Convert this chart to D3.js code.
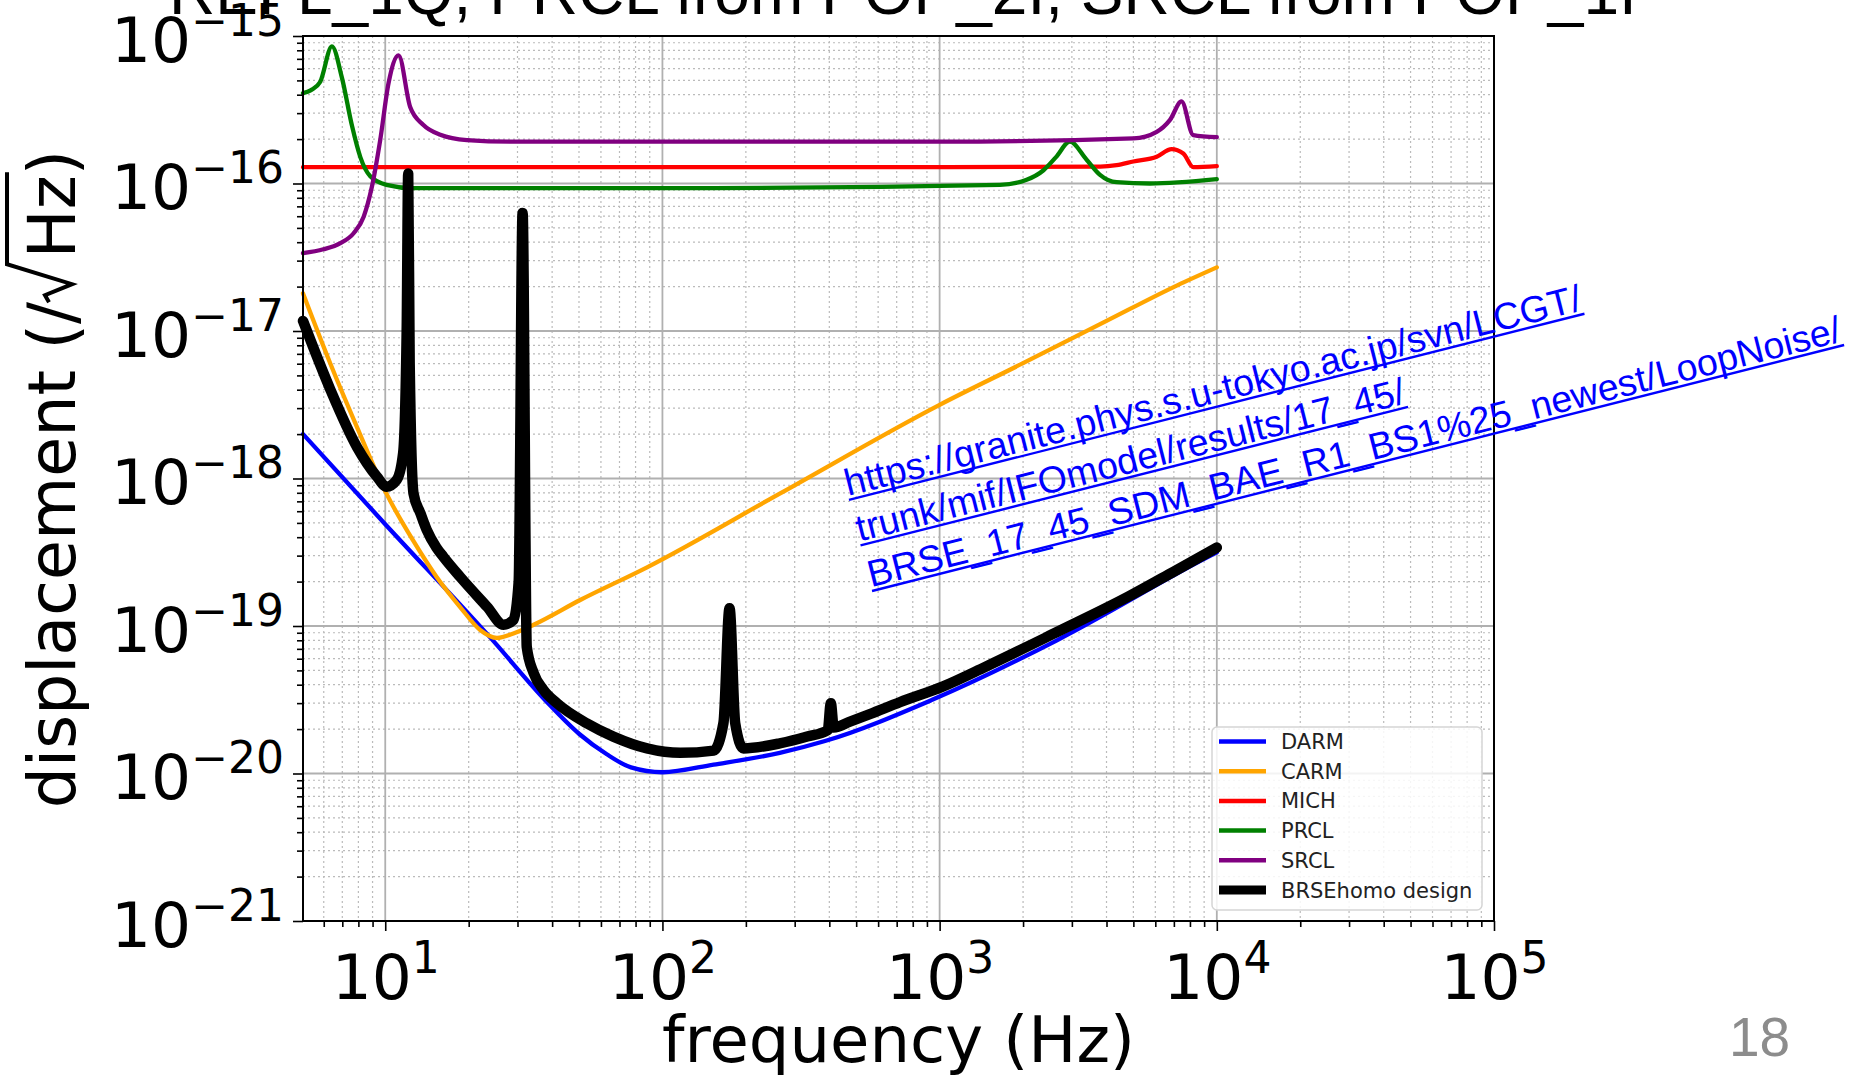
<!DOCTYPE html>
<html lang="en">
<head>
<meta charset="UTF-8">
<title>Loop noise</title>
<script src="https://d3js.org/d3.v7.min.js"></script>
<style>
  body { margin: 0; background: #fff; }
  svg { display: block; }
</style>
</head>
<body>
<div id="chart"></div>
<script>

// frequency (Hz) / displacement (m/rtHz)
const darmFreq = [5.05, 10, 24, 38, 50, 63, 77, 100, 153, 265, 386, 940, 2650, 8690, 10000];
const darmAsd  = [2.0e-18, 4.9e-19, 8.3e-20, 3.1e-20, 1.86e-20, 1.35e-20, 1.10e-20, 1.02e-20, 1.15e-20, 1.38e-20, 1.66e-20, 3.16e-20, 8.0e-20, 2.75e-19, 3.16e-19];

const carmFreq = [5.05, 6.34, 7.9, 10.1, 12.6, 15.3, 18.6, 22, 25.3, 29, 34.3, 50.5, 88, 265, 1000, 2000, 4000, 7200, 10000];
const carmAsd  = [1.8e-17, 6.0e-18, 2.24e-18, 7.9e-19, 3.8e-19, 2.16e-19, 1.35e-19, 9.4e-20, 8.3e-20, 8.9e-20, 1.02e-19, 1.5e-19, 2.5e-19, 7.9e-19, 3.16e-18, 6.05e-18, 1.17e-17, 2.04e-17, 2.7e-17];

const michFreq = [5.05, 100, 1000, 3800, 4350, 5000, 6070, 6870, 7570, 8220, 10000];
const michAsd  = [1.29e-16, 1.29e-16, 1.29e-16, 1.30e-16, 1.33e-16, 1.41e-16, 1.52e-16, 1.71e-16, 1.60e-16, 1.29e-16, 1.31e-16];

const prclFreq = [5.05, 5.4, 5.83, 6.42, 6.98, 7.59, 8.13, 8.83, 10.1, 12.6, 100, 1650, 2060, 2370, 2630, 2950, 3390, 3780, 4350, 5740, 10000];
const prclAsd  = [4.1e-16, 4.3e-16, 4.9e-16, 8.5e-16, 5.2e-16, 2.45e-16, 1.51e-16, 1.12e-16, 9.8e-17, 9.3e-17, 9.3e-17, 9.8e-17, 1.06e-16, 1.23e-16, 1.51e-16, 1.92e-16, 1.45e-16, 1.15e-16, 1.02e-16, 1.0e-16, 1.07e-16];

const srclFreq = [5.05, 5.98, 6.89, 7.69, 8.36, 8.95, 9.59, 10.28, 11.17, 12.3, 13.7, 15.8, 19.7, 29, 1000, 5000, 6070, 6780, 7460, 8220, 10000];
const srclAsd  = [3.37e-17, 3.58e-17, 3.94e-17, 4.6e-17, 5.96e-17, 9.5e-17, 1.97e-16, 4.8e-16, 7.4e-16, 3.3e-16, 2.5e-16, 2.14e-16, 1.97e-16, 1.92e-16, 1.92e-16, 2.02e-16, 2.24e-16, 2.7e-16, 3.6e-16, 2.13e-16, 2.06e-16];

const brseFreq = [5.05, 6.34, 7.9, 9.33, 10.1, 11.0, 11.6, 11.95, 12.1, 12.25, 12.65, 13.4, 14.1, 15.3, 16.2, 18.6, 23.3, 26.7, 29.0, 30.3, 31.3, 32.4, 34.3, 37.2, 41.6, 53.3, 66.5, 88, 116, 153, 166, 174.6, 183, 196, 265, 333, 395, 405, 415, 475, 560, 720, 1030, 1466, 2650, 4790, 7000, 10000];
const brseAsd  = [1.17e-17, 4.0e-18, 1.64e-18, 1.03e-18, 8.8e-19, 9.8e-19, 1.48e-18, 1.0e-17, 1.17e-16, 6.0e-18, 7.9e-19, 5.8e-19, 4.5e-19, 3.4e-19, 2.95e-19, 2.16e-19, 1.35e-19, 1.02e-19, 1.10e-19, 2.0e-19, 6.3e-17, 7.2e-20, 4.8e-20, 3.7e-20, 3.0e-20, 2.19e-20, 1.78e-20, 1.48e-20, 1.38e-20, 1.43e-20, 2.2e-20, 1.32e-19, 2.2e-20, 1.48e-20, 1.60e-20, 1.78e-20, 1.97e-20, 3.0e-20, 2.05e-20, 2.25e-20, 2.53e-20, 3.05e-20, 3.9e-20, 5.3e-20, 9.1e-20, 1.58e-19, 2.34e-19, 3.4e-19];

const seriesNames  = ["DARM", "CARM", "MICH", "PRCL", "SRCL", "BRSEhomo design"];
const seriesColors = ["#0000ff", "#ffa500", "#ff0000", "#008000", "#800080", "#000000"];

const xDecades = [1e1, 1e2, 1e3, 1e4, 1e5];
const xExponents = ["1", "2", "3", "4", "5"];
const yDecades = [1e-21, 1e-20, 1e-19, 1e-18, 1e-17, 1e-16, 1e-15];
const yExponents = ["\u221221", "\u221220", "\u221219", "\u221218", "\u221217", "\u221216", "\u221215"];

const titleText = "REFL_1Q, PRCL from POP_2I, SRCL from POP_1I";
const linkLines = [
  "https://granite.phys.s.u-tokyo.ac.jp/svn/LCGT/",
  "trunk/mif/IFOmodel/results/17_45/",
  "BRSE_17_45_SDM_BAE_R1_BS1%25_newest/LoopNoise/"
];
const pageNumber = "18";

// ---- layout
const W = 1854, H = 1080;
const plot = { left: 303, right: 1494, top: 36, bottom: 921 };

const svg = d3.select("#chart").append("svg")
  .attr("width", W)
  .attr("height", H)
  .style("background", "#fff");

const x = d3.scaleLog().domain([5.05, 1e5]).range([plot.left, plot.right]);
const y = d3.scaleLog().domain([1e-21, 1e-15]).range([plot.bottom, plot.top]);

// minor tick values 2..9 per decade
const xMinor = [];
for (let e = 0; e <= 4; e++) for (let m = 2; m <= 9; m++) {
  const v = m * Math.pow(10, e);
  if (v >= 5.05 && v < 1e5) xMinor.push(v);
}
const yMinor = [];
for (let e = -21; e <= -16; e++) for (let m = 2; m <= 9; m++) yMinor.push(m * Math.pow(10, e));

// grid
const grid = svg.append("g");
grid.selectAll(".xmin").data(xMinor).enter().append("line")
  .attr("x1", d => x(d)).attr("x2", d => x(d))
  .attr("y1", plot.top).attr("y2", plot.bottom)
  .attr("stroke", "#bbbbbb").attr("stroke-width", 1.2).attr("stroke-dasharray", "2,3");
grid.selectAll(".ymin").data(yMinor).enter().append("line")
  .attr("y1", d => y(d)).attr("y2", d => y(d))
  .attr("x1", plot.left).attr("x2", plot.right)
  .attr("stroke", "#bbbbbb").attr("stroke-width", 1.2).attr("stroke-dasharray", "2,3");
grid.selectAll(".xmaj").data(xDecades).enter().append("line")
  .attr("x1", d => x(d)).attr("x2", d => x(d))
  .attr("y1", plot.top).attr("y2", plot.bottom)
  .attr("stroke", "#b0b0b0").attr("stroke-width", 1.8);
grid.selectAll(".ymaj").data(yDecades).enter().append("line")
  .attr("y1", d => y(d)).attr("y2", d => y(d))
  .attr("x1", plot.left).attr("x2", plot.right)
  .attr("stroke", "#b0b0b0").attr("stroke-width", 1.8);

// curves
const series = [
  [darmFreq, darmAsd], [carmFreq, carmAsd], [michFreq, michAsd],
  [prclFreq, prclAsd], [srclFreq, srclAsd], [brseFreq, brseAsd]
];
const line = d3.line()
  .x(d => x(d[0]))
  .y(d => y(d[1]))
  .curve(d3.curveMonotoneX);

const curves = svg.append("g");
series.forEach((s, i) => {
  const pts = s[0].map((f, k) => [f, s[1][k]]);
  curves.append("path")
    .attr("d", line(pts))
    .attr("fill", "none")
    .attr("stroke", seriesColors[i])
    .attr("stroke-width", i === 5 ? 10.5 : 4.3)
    .attr("stroke-linejoin", "round")
    .attr("stroke-linecap", "round");
});

// axes
const tickFont = "'DejaVu Sans', sans-serif";

const xAxisG = svg.append("g")
  .attr("transform", `translate(0,${plot.bottom})`)
  .call(d3.axisBottom(x).tickValues(xMinor).tickSize(6).tickSizeOuter(0).tickFormat(""));
const xMajG = svg.append("g")
  .attr("transform", `translate(0,${plot.bottom})`)
  .call(d3.axisBottom(x).tickValues(xDecades).tickSize(10).tickSizeOuter(0).tickFormat(""));

xMajG.selectAll(".tick").append("text")
  .attr("y", 78)
  .attr("fill", "#000")
  .attr("text-anchor", "middle")
  .style("font-family", tickFont)
  .style("font-size", "63px")
  .each(function(d, i) {
    const t = d3.select(this);
    t.append("tspan").text("10");
    t.append("tspan").attr("dy", -26).style("font-size", "44px").text(xExponents[i]);
  });

const yAxisG = svg.append("g")
  .attr("transform", `translate(${plot.left},0)`)
  .call(d3.axisLeft(y).tickValues(yMinor).tickSize(6).tickSizeOuter(0).tickFormat(""));
const yMajG = svg.append("g")
  .attr("transform", `translate(${plot.left},0)`)
  .call(d3.axisLeft(y).tickValues(yDecades).tickSize(10).tickSizeOuter(0).tickFormat(""));

yMajG.selectAll(".tick").append("text")
  .attr("x", -19)
  .attr("y", 25)
  .attr("fill", "#000")
  .attr("text-anchor", "end")
  .style("font-family", tickFont)
  .style("font-size", "63px")
  .each(function(d, i) {
    const t = d3.select(this);
    t.append("tspan").text("10");
    t.append("tspan").attr("dy", -26).style("font-size", "44px").text(yExponents[i]);
  });

[xAxisG, xMajG, yAxisG, yMajG].forEach(g => {
  g.selectAll(".tick line").attr("stroke", "#000").attr("stroke-width", 1.6);
  g.select(".domain").remove();
});

// frame
svg.append("rect")
  .attr("x", plot.left).attr("y", plot.top)
  .attr("width", plot.right - plot.left).attr("height", plot.bottom - plot.top)
  .attr("fill", "none").attr("stroke", "#000").attr("stroke-width", 2);

// x label
svg.append("text")
  .attr("x", (plot.left + plot.right) / 2)
  .attr("y", 1062)
  .attr("text-anchor", "middle")
  .style("font-family", tickFont)
  .style("font-size", "64px")
  .text("frequency (Hz)");

// y label with a drawn radical over Hz
const yLab = svg.append("g").attr("transform", "translate(75,479) rotate(-90)");
const yText = yLab.append("text")
  .attr("text-anchor", "middle")
  .style("font-family", tickFont)
  .style("font-size", "65px");
yText.append("tspan").text("displacement (/");
yText.append("tspan").attr("dx", 44).text("Hz");
yText.append("tspan").text(")");

const yNode = yText.node();
const nPre = "displacement (/".length;
const hzStart = yNode.getStartPositionOfChar(nPre).x;
const hzEnd = yNode.getEndPositionOfChar(nPre + 1).x;
const rr = hzStart - 4;
yLab.append("path")
  .attr("d", `M${rr - 40},-26 L${rr - 33},-30 L${rr - 22},-3 L${rr - 2},-68 L${hzEnd + 3},-68`)
  .attr("fill", "none")
  .attr("stroke", "#000")
  .attr("stroke-width", 4)
  .attr("stroke-linejoin", "miter");

// legend
const legend = svg.append("g");
legend.append("rect")
  .attr("x", 1212).attr("y", 727)
  .attr("width", 270).attr("height", 183)
  .attr("rx", 5)
  .attr("fill", "#fff").attr("fill-opacity", 0.85)
  .attr("stroke", "#d5d5d5").attr("stroke-width", 1.5);
seriesNames.forEach((name, i) => {
  const cy = 741.5 + i * 29.7;
  legend.append("line")
    .attr("x1", 1219).attr("x2", 1266)
    .attr("y1", cy).attr("y2", cy)
    .attr("stroke", seriesColors[i])
    .attr("stroke-width", i === 5 ? 9 : 4.5);
  legend.append("text")
    .attr("x", 1281).attr("y", cy + 7.5)
    .attr("fill", "#222")
    .style("font-family", tickFont)
    .style("font-size", "21px")
    .text(name);
});

// link text overlay
const link = svg.append("g").attr("transform", "translate(848,496) rotate(-14.2)");
linkLines.forEach((s, i) => {
  const t = link.append("text")
    .attr("x", 0).attr("y", i * 47)
    .attr("fill", "#0000ff")
    .style("font-family", "'Liberation Sans', Arial, sans-serif")
    .style("font-size", "37.5px")
    .text(s);
  const len = t.node().getComputedTextLength();
  link.append("line")
    .attr("x1", 0).attr("x2", len)
    .attr("y1", i * 47 + 4).attr("y2", i * 47 + 4)
    .attr("stroke", "#0000ff").attr("stroke-width", 2.4);
});

// slide title (cut at the top) and page number
svg.append("text")
  .attr("x", 169).attr("y", 14)
  .style("font-family", "'Liberation Sans', Arial, sans-serif")
  .style("font-size", "64px")
  .text(titleText);

svg.append("text")
  .attr("x", 1729).attr("y", 1056)
  .attr("fill", "#8c8c8c")
  .style("font-family", "'Liberation Sans', Arial, sans-serif")
  .style("font-size", "55px")
  .text(pageNumber);

</script>
</body>
</html>
